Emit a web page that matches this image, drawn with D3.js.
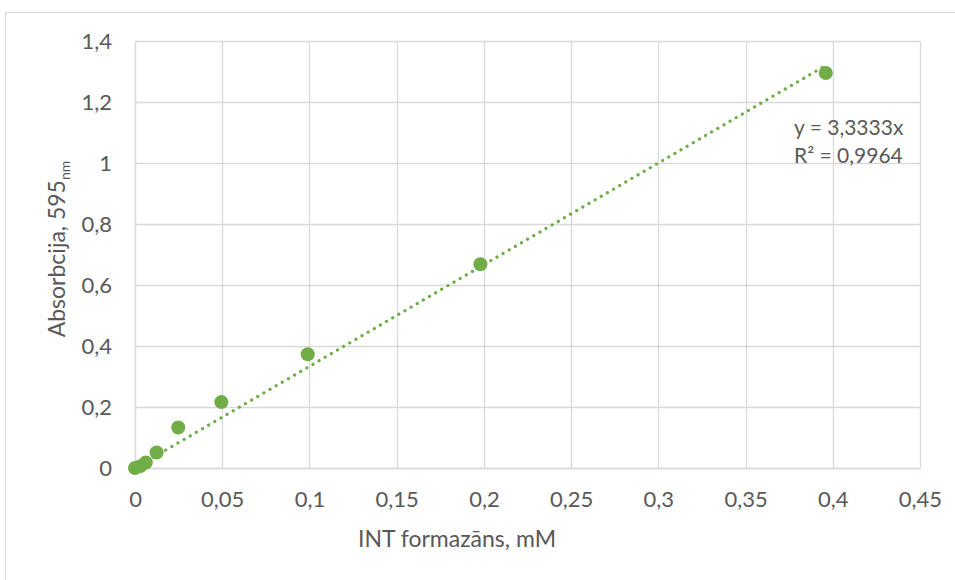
<!DOCTYPE html>
<html>
<head>
<meta charset="utf-8">
<script src="https://cdn.jsdelivr.net/npm/d3@7"></script>
<style>
  html, body { margin: 0; padding: 0; background: #fff; }
  svg text { font-family: Lato, "Open Sans", sans-serif; fill: #595959; }
</style>
</head>
<body>
<svg id="chart" width="955" height="580"></svg>
<script>
// INT formazan calibration: concentration (mM) vs absorbance at 595 nm
const concentration = [0, 0.0031, 0.0062, 0.0124, 0.0248, 0.0495, 0.099, 0.198, 0.396];
const absorbance    = [0, 0.006, 0.018, 0.051, 0.133, 0.216, 0.373, 0.668, 1.295];
const xTicks = [0, 0.05, 0.1, 0.15, 0.2, 0.25, 0.3, 0.35, 0.4, 0.45];
const yTicks = [0, 0.2, 0.4, 0.6, 0.8, 1, 1.2, 1.4];
const slope = 3.3333;
const rSquared = "0,9964";

const svg = d3.select("#chart");
const green = "#70AD47";
const grid = "#d9d9d9";
const fmt = v => String(v).replace(".", ",");

// outer chart frame
svg.append("rect")
  .attr("x", 5.5).attr("y", 12.5)
  .attr("width", 1000).attr("height", 1000)
  .attr("fill", "none").attr("stroke", grid);

const x = d3.scaleLinear().domain([0, 0.45]).range([135, 920]);
const y = d3.scaleLinear().domain([0, 1.4]).range([468, 41]);

// gridlines
svg.append("g").selectAll("line").data(yTicks).join("line")
  .attr("x1", x(0)).attr("x2", x(0.45))
  .attr("y1", d => Math.round(y(d)) + 0.5).attr("y2", d => Math.round(y(d)) + 0.5)
  .attr("stroke", grid).attr("stroke-width", 1.3);
svg.append("g").selectAll("line").data(xTicks).join("line")
  .attr("y1", y(0)).attr("y2", y(1.4))
  .attr("x1", d => Math.round(x(d)) + 0.5).attr("x2", d => Math.round(x(d)) + 0.5)
  .attr("stroke", grid).attr("stroke-width", 1.3);

// axes (labels only, no tick marks)
const xAxis = svg.append("g").attr("transform", `translate(0,${y(0)})`)
  .call(d3.axisBottom(x).tickValues(xTicks).tickSize(0).tickFormat(fmt));
xAxis.selectAll("text").attr("y", 39).attr("dy", null);
const yAxis = svg.append("g").attr("transform", `translate(${x(0)},0)`)
  .call(d3.axisLeft(y).tickValues(yTicks).tickSize(0).tickPadding(23).tickFormat(fmt));
[xAxis, yAxis].forEach(a => {
  a.select(".domain").attr("stroke", grid).attr("stroke-width", 1.3);
  a.selectAll("text").style("font-size", "22px").attr("fill", "#595959")
    .style("font-family", "Lato, 'Open Sans', sans-serif");
});

// linear trendline through the origin
const xMax = d3.max(concentration);
svg.append("line")
  .attr("x1", x(0)).attr("y1", y(0))
  .attr("x2", x(xMax)).attr("y2", y(slope * xMax))
  .attr("stroke", green).attr("stroke-width", 3.2)
  .attr("stroke-linecap", "round").attr("stroke-dasharray", "0.1 7");

// data points
svg.append("g").selectAll("circle").data(concentration).join("circle")
  .attr("cx", d => x(d)).attr("cy", (d, i) => y(absorbance[i]))
  .attr("r", 7).attr("fill", green);

// trendline equation
svg.append("text").attr("x", 794).attr("y", 135).style("font-size", "21px")
  .text("y = " + fmt(slope) + "x");
svg.append("text").attr("x", 794).attr("y", 163).style("font-size", "21px")
  .text("R² = " + rSquared);

// axis titles
svg.append("text").attr("x", 457).attr("y", 547).attr("text-anchor", "middle")
  .style("font-size", "23px").text("INT formazāns, mM");
const yt = svg.append("text").attr("transform", "translate(65,249) rotate(-90)")
  .attr("text-anchor", "middle").style("font-size", "23px");
yt.append("tspan").text("Absorbcija, 595");
yt.append("tspan").attr("dy", 5).style("font-size", "14px").text("nm");
</script>
</body>
</html>
